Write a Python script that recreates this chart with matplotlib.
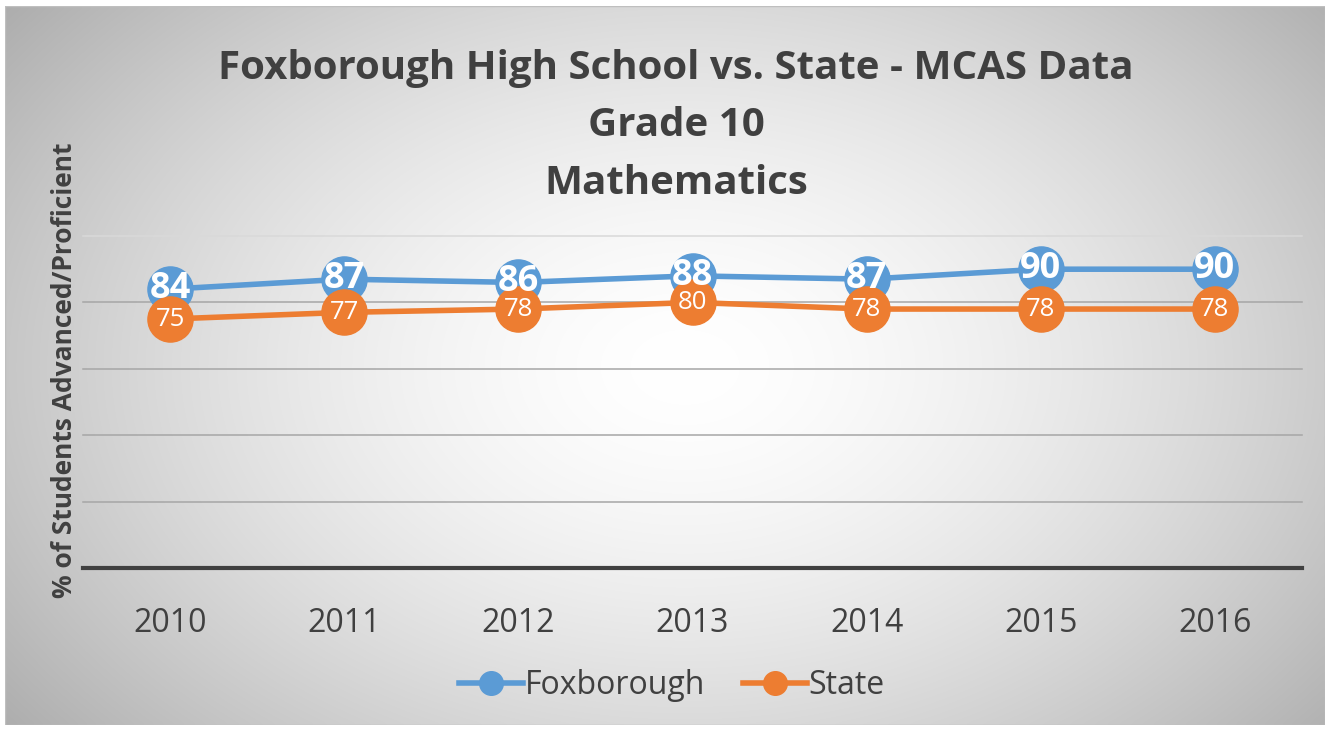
import numpy as np
import matplotlib.pyplot as plt
from matplotlib.patches import Rectangle
from matplotlib.lines import Line2D

# data
years = ["2010", "2011", "2012", "2013", "2014", "2015", "2016"]
foxborough = [84, 87, 86, 88, 87, 90, 90]
state = [75, 77, 78, 80, 78, 78, 78]

blue = "#5b9bd5"
orange = "#ed7d31"
text_col = "#404040"

plt.rcParams['font.family'] = ['Open Sans', 'DejaVu Sans']

W, H = 1333, 731
fig = plt.figure(figsize=(W / 100, H / 100), dpi=100)
fig.patch.set_facecolor("white")

# radial gradient background of the chart area
bg = fig.add_axes([5 / W, 6 / H, 1320 / W, 719 / H])
bg.set_axis_off()
yy, xx = np.mgrid[0:200, 0:360]
cx, cy = 185, 100
r = np.sqrt(((xx - cx) / 200.0) ** 2 + ((yy - cy) / 140.0) ** 2)
shade = 1.0 - 0.25 * np.clip(r, 0, 1.2) ** 1.6
bg.imshow(np.dstack([shade] * 3), extent=[0, 1, 0, 1], aspect="auto",
          interpolation="bicubic", zorder=0)
bg.add_patch(Rectangle((0, 0), 1, 1, transform=bg.transAxes, fill=False,
                       edgecolor="#bfbfbf", lw=1))
bg.set_xlim(0, 1)
bg.set_ylim(0, 1)

# main plot
ax = fig.add_axes([83 / W, 1 - 568 / H, (1302 - 83) / W, (568 - 236) / H])
ax.patch.set_alpha(0)
x = np.arange(len(years))

for v in [20, 40, 60, 80]:
    ax.axhline(v, color="#a6a6a6", lw=1.1, zorder=1)
ax.axhline(100, color="#d9d9d9", lw=1.1, zorder=1)
ax.axhline(0, color="#404040", lw=3, zorder=2)

ax.plot(x, foxborough, color=blue, lw=4, marker="o", ms=32.5, zorder=3)
ax.plot(x, state, color=orange, lw=4, marker="o", ms=32.5, zorder=4)

for xi, v in zip(x, foxborough):
    ax.text(xi, v, str(v), ha="center", va="center", color="white",
            fontsize=26, fontweight="bold", zorder=5)
for xi, v in zip(x, state):
    ax.text(xi, v, str(v), ha="center", va="center", color="white",
            fontsize=18.5, zorder=6)

ax.set_xlim(-0.5, len(years) - 0.5)
ax.set_ylim(0, 100)
ax.set_yticks([])
ax.set_xticks(x)
ax.set_xticklabels(years, fontsize=23, color=text_col)
ax.tick_params(axis="x", length=0, pad=28)
for s in ax.spines.values():
    s.set_visible(False)
for line in ax.lines:
    line.set_clip_on(False)

fig.text(0.0485, 1 - 370 / H, "% of Students Advanced/Proficient", rotation=90,
         ha="center", va="center", fontsize=19, fontweight="bold", color=text_col)

fig.text(676 / W, 1 - 126 / H,
         "Foxborough High School vs. State - MCAS Data\nGrade 10\nMathematics",
         ha="center", va="center", fontsize=29, fontweight="bold", color=text_col,
         linespacing=1.6)

handles = [Line2D([], [], color=blue, lw=4, marker="o", ms=17),
           Line2D([], [], color=orange, lw=4, marker="o", ms=17)]
fig.legend(handles, ["Foxborough", "State"], loc="center",
           bbox_to_anchor=(672 / W, 1 - 686 / H), ncol=2, frameon=False,
           fontsize=23, labelcolor=text_col, handlelength=2.0,
           handletextpad=0.05, columnspacing=1.2)

fig.savefig("out.png", dpi=100)
